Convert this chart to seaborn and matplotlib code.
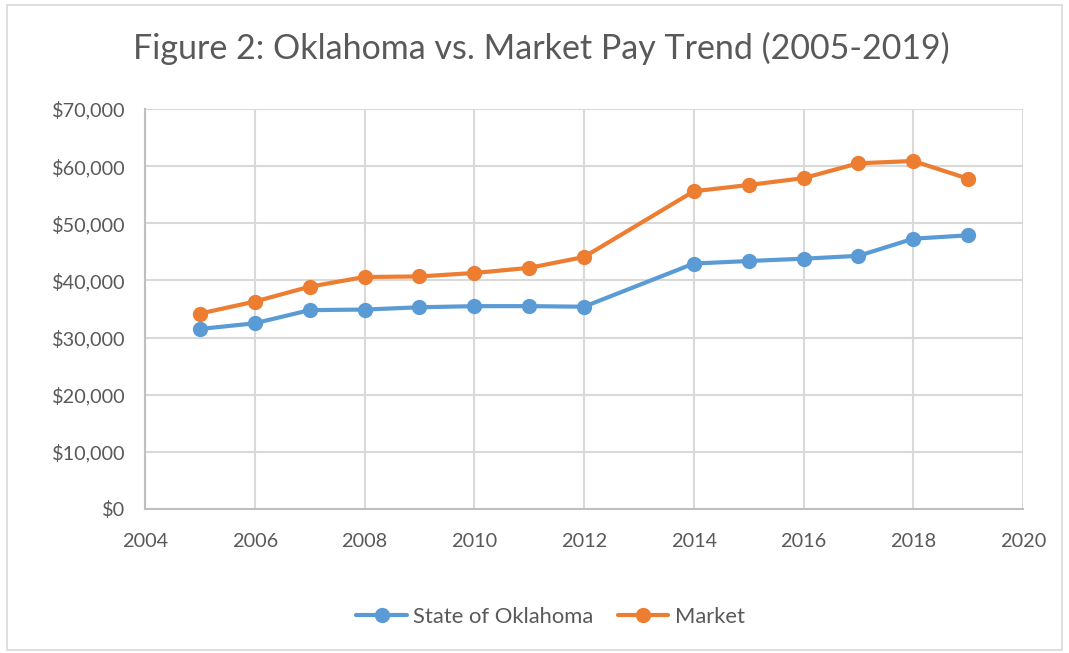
import matplotlib
matplotlib.use("Agg")
import matplotlib.pyplot as plt
import matplotlib.ticker as mticker
from matplotlib.patches import Rectangle
import pandas as pd
import seaborn as sns

years = [2005, 2006, 2007, 2008, 2009, 2010, 2011, 2012,
         2014, 2015, 2016, 2017, 2018, 2019]
oklahoma = [31500, 32500, 34800, 34900, 35300, 35500, 35500, 35400,
            42950, 43400, 43800, 44300, 47300, 47900]
market = [34200, 36300, 38900, 40600, 40700, 41300, 42200, 44100,
          55600, 56700, 57900, 60500, 60900, 57800]
series_names = ["State of Oklahoma", "Market"]
colors = ["#5B9BD5", "#ED7D31"]

df = pd.concat([
    pd.DataFrame({"year": years, "pay": oklahoma, "series": series_names[0]}),
    pd.DataFrame({"year": years, "pay": market, "series": series_names[1]}),
])

sns.set_style("white")
plt.rcParams["font.family"] = ["Lato", "DejaVu Sans"]

fig = plt.figure(figsize=(10.69, 6.53), dpi=100)
ax = fig.add_axes([145 / 1069, 1 - 509 / 653, (1023 - 145) / 1069, 400 / 653])

sns.lineplot(data=df, x="year", y="pay", hue="series", palette=colors,
             marker="o", markersize=11, markeredgewidth=0, linewidth=3,
             ax=ax)

ax.set_xlim(2004, 2020)
ax.set_ylim(0, 70000)
ax.xaxis.set_major_locator(mticker.MultipleLocator(2))
ax.yaxis.set_major_locator(mticker.MultipleLocator(10000))
ax.yaxis.set_major_formatter(mticker.FuncFormatter(lambda v, p: f"${v:,.0f}"))
ax.grid(True, color="#D9D9D9", linewidth=1.5)
ax.set_axisbelow(True)
for side in ["top", "right"]:
    ax.spines[side].set_visible(False)
for side in ["left", "bottom"]:
    ax.spines[side].set_color("#BFBFBF")
    ax.spines[side].set_linewidth(1.5)
ax.tick_params(axis="both", colors="#595959", labelsize=14.3, length=0)
ax.tick_params(axis="y", pad=14)
ax.tick_params(axis="x", pad=17)
ax.set_xlabel("")
ax.set_ylabel("")

fig.suptitle("Figure 2: Oklahoma vs. Market Pay Trend (2005-2019)",
             x=541 / 1069, y=1 - 48 / 653, va="center",
             fontsize=24.5, color="#595959")

handles, labels = ax.get_legend_handles_labels()
ax.legend(handles, labels, loc="center", bbox_to_anchor=(0.515, 1 - 617 / 653),
          bbox_transform=fig.transFigure, ncol=2, frameon=False,
          fontsize=15.8, labelcolor="#595959", handlelength=2.3,
          columnspacing=1.1, handletextpad=0.3)

fig.patches.append(Rectangle((7 / 1069, 1 - 650 / 653), 1055 / 1069, 645 / 653,
                             transform=fig.transFigure, fill=False,
                             edgecolor="#D9D9D9", linewidth=1.2))

fig.savefig("out.png", dpi=100, facecolor="white")
